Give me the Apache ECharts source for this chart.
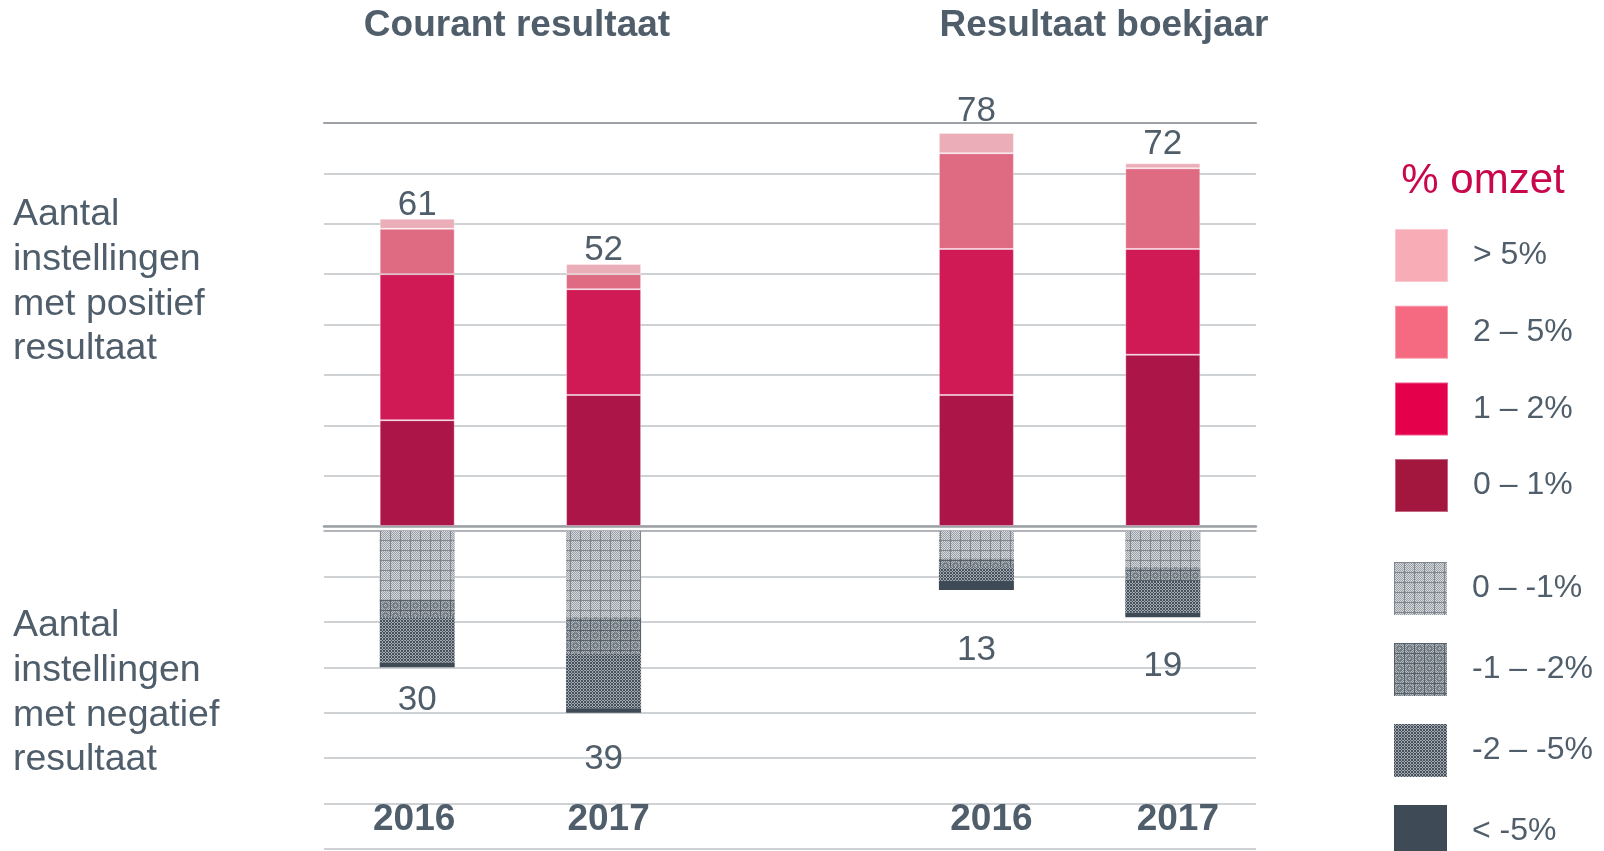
<!DOCTYPE html>
<html>
<head>
<meta charset="utf-8">
<script src="https://cdn.jsdelivr.net/npm/echarts@6/dist/echarts.min.js"></script>
<style>
  html, body { margin: 0; padding: 0; background: #fff; }
  #chart { width: 1604px; height: 851px; }
</style>
</head>
<body>
<div id="chart"></div>
<script>
// categorieen: twee groepen met een lege kolom ertussen
const categories = ['2016', '2017', '', '2016', '2017'];
const groupTitles = ['Courant resultaat', 'Resultaat boekjaar'];

// positief resultaat (aantal instellingen), per bar: C2016, C2017, B2016, B2017
const posNames = ['0 – 1%', '1 – 2%', '2 – 5%', '> 5%'];
const pos0to1 = [21, 26, 26, 34];
const pos1to2 = [29, 21, 29, 21];
const pos2to5 = [9, 3, 19, 16];
const posOver5 = [2, 2, 4, 1];
const posTotals = [61, 52, 78, 72];

// negatief resultaat
const negNames = ['0 – -1%', '-1 – -2%', '-2 – -5%', '< -5%'];
const neg0to1 = [15, 19, 6, 8];
const neg1to2 = [4, 8, 2, 3];
const neg2to5 = [10, 12, 3, 7];
const negUnder5 = [1, 1, 2, 1];
const negTotals = [30, 39, 13, 19];

const textColor = '#4f5e6a';
const font = 'Liberation Sans, Arial, sans-serif';

// kleuren van de balken en van de legenda
const posColors = ['#ab1548', '#cf1a55', '#df6b83', '#ebadb8'];
const posLegendColors = ['#a3173f', '#e4004b', '#f56a80', '#f8adb6'];

// afstand van de totaal-labels tot de balk (alleen opmaak)
const posLabelGap = [-4, -4, 4, 1];
const negLabelGap = [16, 29, 43, 32];
// kleine horizontale verschuiving van de jaartallen (opmaak)
const yearShift = [-3, 5, 0, 15, 15];

// rasterpatronen voor de negatieve segmenten
function makePattern(kind) {
  const c = document.createElement('canvas');
  const s = kind === 3 ? 3 : 10;
  c.width = c.height = s;
  const g = c.getContext('2d');
  if (kind === 1) {
    g.fillStyle = '#d6d9dc'; g.fillRect(0, 0, s, s);
    g.fillStyle = '#9aa0a6';
    for (let y = 0; y < s; y++) for (let x = 0; x < s; x++) if ((x + y) % 2 === 0) g.fillRect(x, y, 1, 1);
    g.fillStyle = '#80878e'; g.fillRect(0, 0, s, 1); g.fillRect(0, 0, 1, s);
  } else if (kind === 2) {
    g.fillStyle = '#b3b8bd'; g.fillRect(0, 0, s, s);
    g.fillStyle = '#7a8289';
    for (let y = 0; y < s; y++) for (let x = 0; x < s; x++) if ((x + y) % 2 === 0) g.fillRect(x, y, 1, 1);
    g.fillStyle = '#56616b'; g.fillRect(0, 0, s, 1); g.fillRect(0, 0, 1, s);
    g.strokeStyle = '#66717a'; g.lineWidth = 1;
    g.beginPath(); g.arc(5.5, 5.5, 2.5, 0, Math.PI * 2); g.stroke();
  } else if (kind === 3) {
    g.fillStyle = '#45515c'; g.fillRect(0, 0, s, s);
    g.fillStyle = '#a3a9af';
    g.fillRect(1, 0, 1, 1); g.fillRect(0, 1, 1, 1); g.fillRect(2, 1, 1, 1); g.fillRect(1, 2, 1, 1);
  }
  return { image: c, repeat: 'repeat' };
}
const negColors = [makePattern(1), makePattern(2), makePattern(3), '#3e4a55'];

function withGap(a) { return [a[0], a[1], '-', a[2], a[3]]; }
function barIndex(j) { return j < 2 ? j : j - 1; }

const posData = [pos0to1, pos1to2, pos2to5, posOver5];
const negData = [neg0to1, neg1to2, neg2to5, negUnder5];

const labelStyle = { fontSize: 35, color: textColor, fontFamily: font };

const posSeries = posData.map((d, i) => ({
  name: posNames[i],
  type: 'bar',
  stack: 'pos',
  xAxisIndex: 0,
  yAxisIndex: 0,
  barWidth: 75,
  itemStyle: { color: posColors[i], borderColor: 'rgba(255,255,255,0.35)', borderWidth: 1 },
  label: Object.assign({
    show: i === 3,
    position: 'top',
    formatter: p => posTotals[barIndex(p.dataIndex)]
  }, labelStyle),
  data: withGap(d).map((v, j) => v === '-' ? v : ({ value: v, label: { distance: posLabelGap[barIndex(j)] } }))
}));

const negSeries = negData.map((d, i) => ({
  name: negNames[i],
  type: 'bar',
  stack: 'neg',
  xAxisIndex: 3,
  yAxisIndex: 1,
  barWidth: 75,
  itemStyle: { color: negColors[i] },
  label: Object.assign({
    show: i === 3,
    position: 'bottom',
    formatter: p => negTotals[barIndex(p.dataIndex)]
  }, labelStyle),
  data: withGap(d).map((v, j) => v === '-' ? v : ({ value: v, label: { distance: negLabelGap[barIndex(j)] } }))
}));

const gridLine = { lineStyle: { color: '#bfc3c7', width: 1.5 } };
const hidden = { axisTick: { show: false }, axisLabel: { show: false } };

// jaartallen met een eigen verschuiving per kolom
const yearRich = {};
yearShift.forEach((s, k) => {
  yearRich['y' + k] = {
    fontSize: 37, fontWeight: 'bold', color: textColor, fontFamily: font,
    padding: s >= 0 ? [0, 0, 0, 2 * s] : [0, -2 * s, 0, 0]
  };
});

let myChart = echarts.init(document.getElementById('chart'));
const option = {
  animation: false,
  textStyle: { fontFamily: font },
  grid: [
    { left: 324, width: 932, top: 123, height: 403 },
    { left: 324, width: 932, top: 531, height: 318 }
  ],
  xAxis: [
    Object.assign({ type: 'category', gridIndex: 0, position: 'bottom', data: categories,
      axisLine: { lineStyle: { color: '#9da1a6', width: 2.5 } } }, hidden),
    Object.assign({ type: 'category', gridIndex: 0, position: 'top', data: categories,
      axisLine: { lineStyle: { color: '#9da1a6', width: 2 } } }, hidden),
    Object.assign({ type: 'category', gridIndex: 1, position: 'top', data: categories,
      axisLine: { lineStyle: { color: '#a8acb0', width: 1.5 } } }, hidden),
    {
      type: 'category', gridIndex: 1, position: 'bottom', data: categories,
      axisLine: { show: false }, axisTick: { show: false },
      axisLabel: {
        margin: -48, interval: 0,
        formatter: (v, k) => v ? '{y' + k + '|' + v + '}' : '',
        rich: yearRich
      }
    }
  ],
  yAxis: [
    { type: 'value', gridIndex: 0, min: 0, max: 80, interval: 10,
      axisLine: { show: false }, axisTick: { show: false }, axisLabel: { show: false }, splitLine: gridLine },
    { type: 'value', gridIndex: 1, min: 0, max: 70, interval: 10, inverse: true,
      axisLine: { show: false }, axisTick: { show: false }, axisLabel: { show: false }, splitLine: gridLine }
  ],
  legend: [
    {
      orient: 'vertical', left: 1394, top: 228, height: 320, padding: 0,
      itemWidth: 53, itemHeight: 53, itemGap: 21.7,
      icon: 'rect', selectedMode: false,
      data: posNames.slice().reverse().map((n, k) => ({ name: n, itemStyle: { color: posLegendColors[3 - k] } })),
      textStyle: { fontSize: 32, color: textColor, fontFamily: font, padding: [0, 0, 0, 20] }
    },
    {
      orient: 'vertical', left: 1394, top: 562, height: 320, padding: 0,
      itemWidth: 53, itemHeight: 53, itemGap: 28,
      icon: 'rect', selectedMode: false,
      data: negNames,
      textStyle: { fontSize: 32, color: textColor, fontFamily: font, padding: [0, 0, 0, 20] }
    }
  ],
  graphic: [
    { type: 'text', x: 517, y: 26, style: { text: groupTitles[0], align: 'center', verticalAlign: 'middle',
      fontSize: 37, fontWeight: 'bold', fontFamily: font, fill: textColor } },
    { type: 'text', x: 1104, y: 26, style: { text: groupTitles[1], align: 'center', verticalAlign: 'middle',
      fontSize: 37, fontWeight: 'bold', fontFamily: font, fill: textColor } },
    { type: 'text', x: 13, y: 282, style: { text: 'Aantal\ninstellingen\nmet positief\nresultaat',
      verticalAlign: 'middle', fontSize: 37.5, lineHeight: 44.7, fontFamily: font, fill: textColor } },
    { type: 'text', x: 13, y: 693, style: { text: 'Aantal\ninstellingen\nmet negatief\nresultaat',
      verticalAlign: 'middle', fontSize: 37.5, lineHeight: 44.7, fontFamily: font, fill: textColor } },
    { type: 'text', x: 1483, y: 181, style: { text: '% omzet', align: 'center', verticalAlign: 'middle',
      fontSize: 42, fontFamily: font, fill: '#c8074d' } }
  ],
  series: posSeries.concat(negSeries)
};
myChart.setOption(option);
window.onresize = myChart.resize;
</script>
</body>
</html>
